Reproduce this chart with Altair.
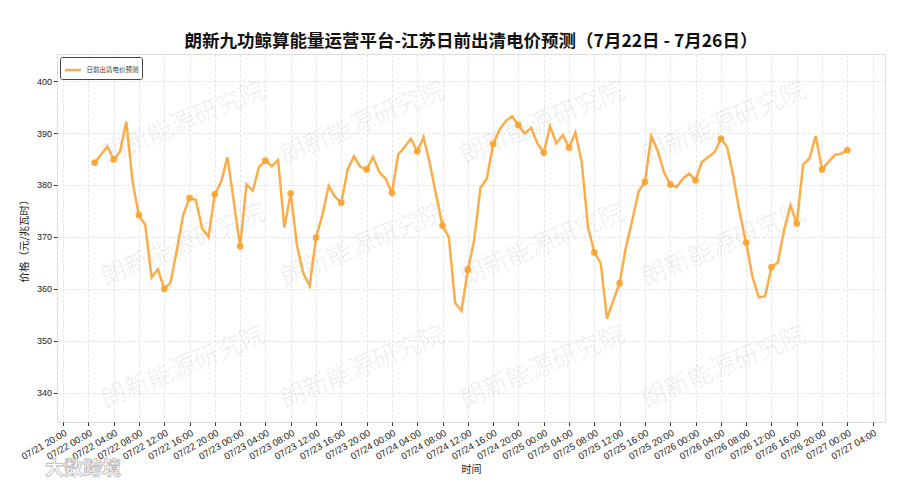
import altair as alt
import pandas as pd

# ---- data (hourly forecast, 07/22 01:00 -> 07/27 00:00) ----
start_time = "2024-07-22 01:00"
prices = [
    384.3, 385.8, 387.4, 384.9, 386.4, 392.2, 380.6, 374.2, 372.3, 362.2,
    363.8, 360.0, 361.2, 367.5, 374.2, 377.5, 377.1, 371.6, 370.0, 378.2,
    380.6, 385.3, 376.8, 368.2, 380.1, 378.9, 383.5, 384.7, 383.6, 384.8,
    371.8, 378.4, 368.3, 363.0, 360.6, 369.9, 374.2, 379.8, 377.7, 376.6,
    383.0, 385.5, 383.5, 383.0, 385.4, 382.5, 381.2, 378.5, 385.9, 387.3,
    388.9, 386.5, 389.2, 384.1, 378.0, 372.2, 369.9, 357.3, 355.8, 363.7,
    369.4, 379.5, 381.2, 387.9, 390.6, 392.3, 393.2, 391.5, 389.9, 391.0,
    388.0, 386.2, 391.3, 388.0, 389.6, 387.2, 390.1, 384.4, 371.9, 367.0,
    365.0, 354.3, 357.8, 361.1, 368.1, 373.2, 378.8, 380.6, 389.4, 386.7,
    382.5, 380.1, 379.6, 381.2, 382.2, 380.9, 384.4, 385.4, 386.3, 388.9,
    387.3, 381.5, 374.5, 368.9, 362.3, 358.4, 358.6, 364.2, 365.1, 371.3,
    376.1, 372.6, 383.9, 385.1, 389.4, 383.0, 384.4, 385.8, 386.0, 386.7,
]
series_name = "日前出清电价预测"
title_text = "朗新九功鲸算能量运营平台-江苏日前出清电价预测（7月22日 - 7月26日）"
y_title = "价格（元/兆瓦时）"
x_title = "时间"
y_ticks = [340, 350, 360, 370, 380, 390, 400]

watermark_text = "朗新能源研究院"
wm_times = ["2024-07-22 15:00", "2024-07-23 19:20", "2024-07-24 23:45", "2024-07-26 04:25"]
wm_prices = [392.0, 368.5, 345.0]

# ---- tables ----
times = pd.date_range(start_time, periods=len(prices), freq="h")
df = pd.DataFrame({"time": times, "price": prices, "series": series_name})
df["marker"] = [(i == 0) or (t.hour % 4 == 0) for i, t in enumerate(times)]
df_pts = df[df["marker"]].reset_index(drop=True)

wm = pd.DataFrame(
    [{"time": pd.Timestamp(t), "price": p, "text": watermark_text} for p in wm_prices for t in wm_times]
)

tick_vals = [alt.DateTime(year=2024, month=7, date=21, hours=20)]
for d in range(22, 28):
    for hh in range(0, 24, 4):
        if d == 27 and hh > 4:
            break
        tick_vals.append(alt.DateTime(year=2024, month=7, date=d, hours=hh))

x_scale = alt.Scale(
    domain=[
        alt.DateTime(year=2024, month=7, date=21, hours=19, minutes=3),
        alt.DateTime(year=2024, month=7, date=27, hours=5, minutes=57),
    ]
)
y_scale = alt.Scale(domain=[334.4, 405.2], nice=False, zero=False)

x_axis = alt.Axis(
    values=tick_vals,
    format="%m/%d %H:%M",
    labelAngle=-30,
    labelAlign="right",
    labelBaseline="top",
    labelFont="Liberation Sans",
    labelFontSize=9.5,
    labelColor="#222",
    labelPadding=2,
    labelOverlap=False,
    tickColor="#333",
    tickSize=3.5,
    domain=False,
    grid=True,
    gridColor="#e4e4e4",
    gridDash=[3, 2],
    title=x_title,
    titleFont="Noto Sans CJK SC",
    titleFontSize=10,
    titleFontWeight="normal",
    titleColor="#222",
    titlePadding=4,
)
y_axis = alt.Axis(
    values=y_ticks,
    labelFont="Liberation Sans",
    labelFontSize=9,
    labelColor="#222",
    labelPadding=2,
    tickColor="#333",
    tickSize=3.5,
    domain=False,
    grid=True,
    gridColor="#e4e4e4",
    gridDash=[3, 2],
    title=y_title,
    titleFont="Noto Sans CJK SC",
    titleFontSize=10.5,
    titleFontWeight="normal",
    titleColor="#222",
    titlePadding=7,
)

base_x = alt.X("time:T", scale=x_scale, axis=x_axis)
base_y = alt.Y("price:Q", scale=y_scale, axis=y_axis)

watermarks = alt.Chart(wm).mark_text(
    angle=337.4,
    font="Noto Sans CJK SC",
    fontSize=25,
    fontWeight="lighter",
    color="#cfcfcf",
    opacity=0.5,
    align="center",
    baseline="middle",
).encode(
    x=alt.X("time:T", scale=x_scale, axis=x_axis),
    y=alt.Y("price:Q", scale=y_scale, axis=y_axis),
    text="text:N",
)

line_color = "#F9A230"

line = alt.Chart(df).mark_line(strokeWidth=2.5, opacity=0.88).encode(
    x=base_x,
    y=base_y,
    color=alt.Color(
        "series:N",
        scale=alt.Scale(range=[line_color]),
        legend=alt.Legend(
            title=None,
            orient="none",
            legendX=3,
            legendY=3,
            symbolType="stroke",
            symbolStrokeWidth=2.5,
            symbolSize=260,
            symbolOpacity=0.88,
            labelFont="Noto Sans CJK SC",
            labelFontSize=6.5,
            labelColor="#333",
            fillColor="white",
            strokeColor="#444",
            padding=3.5,
            cornerRadius=2,
        ),
    ),
)

points = alt.Chart(df_pts).mark_circle(size=45, opacity=0.9, color=line_color).encode(
    x=base_x,
    y=base_y,
)

logo = alt.Chart(pd.DataFrame({"t": ["大数跨境"]})).mark_text(
    font="Noto Sans CJK SC",
    fontSize=19,
    fontWeight="bold",
    color="white",
    stroke="#b8b8b8",
    strokeWidth=0.8,
    align="left",
    baseline="middle",
).encode(text="t:N", x=alt.value(-12), y=alt.value(47 + 368))

chart = (
    alt.layer(watermarks, line, points, logo)
    .properties(
        width=828,
        height=368,
        title=alt.TitleParams(
            title_text,
            font="Noto Sans CJK SC",
            fontSize=17.5,
            fontWeight="bold",
            color="#111",
            anchor="middle",
            offset=4,
        ),
        autosize=alt.AutoSizeParams(type="none"),
        padding={"left": 49, "top": 46, "right": 7, "bottom": 60},
    )
    .configure_view(stroke="#333", strokeWidth=1.2)
    .configure(background="white")
)

chart.save("out.html", embed_options={"renderer": "svg", "actions": False})
